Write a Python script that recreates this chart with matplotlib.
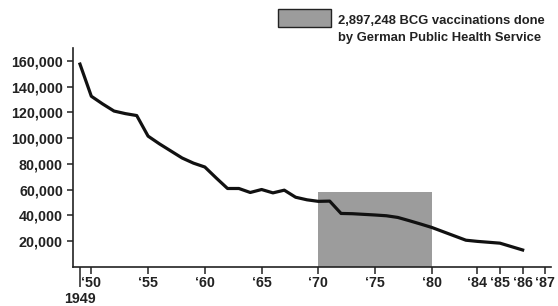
import numpy as np
import matplotlib
matplotlib.use("Agg")
import matplotlib.pyplot as plt
from matplotlib.patches import Rectangle

plt.rcParams['font.family'] = ['Liberation Sans', 'DejaVu Sans']
plt.rcParams['font.weight'] = 'bold'

# TB cases per year
years = [1949, 1950, 1951, 1952, 1953, 1954, 1955, 1956, 1957, 1958, 1959,
         1960, 1961, 1962, 1963, 1964, 1965, 1966, 1967, 1968, 1969, 1970,
         1971, 1972, 1973, 1974, 1975, 1976, 1977, 1978, 1979, 1980, 1981,
         1982, 1983, 1984, 1985, 1986]
cases = [157500, 132500, 126500, 121000, 119000, 117500, 101500, 95500,
         90000, 84500, 80500, 77500, 69000, 60800, 60800, 57700, 60000,
         57400, 59500, 54000, 52000, 50800, 51000, 41400, 41200, 40700,
         40200, 39600, 38300, 35800, 33200, 30500, 27200, 23900, 20600,
         19700, 18300, 13000]

# shaded vaccination period
shade_start = 1970
shade_end = 1980
shade_top = 58000
legend_text = "2,897,248 BCG vaccinations done\nby German Public Health Service"

tick_years = [1950, 1955, 1960, 1965, 1970, 1975, 1980, 1984, 1985, 1986, 1987]
tick_labels = ["\u2018" + str(y)[2:] for y in tick_years]
y_ticks = [20000, 40000, 60000, 80000, 100000, 120000, 140000, 160000]


def fwd(x):
    x = np.asarray(x, dtype=float)
    return np.where(x <= 1984, x, 1984 + 2 * (x - 1984))


def inv(x):
    x = np.asarray(x, dtype=float)
    return np.where(x <= 1984, x, 1984 + (x - 1984) / 2)


fig = plt.figure(figsize=(5.58, 3.06), dpi=100)
ax = fig.add_axes([0.1303, 0.1284, 0.9875 - 0.1303, 0.8431 - 0.1284])
ax.set_xscale('function', functions=(fwd, inv))

ax.add_patch(Rectangle((shade_start, 0), shade_end - shade_start, shade_top,
                       facecolor='#9c9c9c', edgecolor='none', zorder=1))
ax.plot(years, cases, color='#111111', lw=2.3, solid_joinstyle='round', zorder=3)

ax.set_xlim(1948.36, 1987.25)
ax.set_ylim(0, 170000)

for s in ['top', 'right']:
    ax.spines[s].set_visible(False)
for s in ['left', 'bottom']:
    ax.spines[s].set_linewidth(1.2)
    ax.spines[s].set_color('#222222')

ax.set_yticks(y_ticks)
ax.set_yticklabels([f"{v:,}" for v in y_ticks])
ax.set_xticks(tick_years)
ax.set_xticklabels(tick_labels)
ax.set_xticks([1949], minor=True)
ax.set_xticklabels(['1949'], minor=True)
ax.tick_params(axis='y', length=4, width=1.1, pad=3, labelsize=10.3, colors='#222222')
ax.tick_params(axis='x', which='major', length=5, width=1.1, pad=2, labelsize=10.3, colors='#222222')
ax.tick_params(axis='x', which='minor', length=14.5, width=1.1, pad=3.5, labelsize=10.3, colors='#222222')

# legend drawn by hand at the top right
fig.patches.append(Rectangle((278 / 558, 1 - 27 / 306), 53 / 558, 18 / 306,
                             transform=fig.transFigure, facecolor='#9c9c9c',
                             edgecolor='#222222', lw=1.0))
fig.text(338 / 558, 1 - 29.5 / 306, legend_text, ha='left', va='center',
         fontsize=9.4, linespacing=1.45, color='#222222')

fig.savefig("out.png", dpi=100)
